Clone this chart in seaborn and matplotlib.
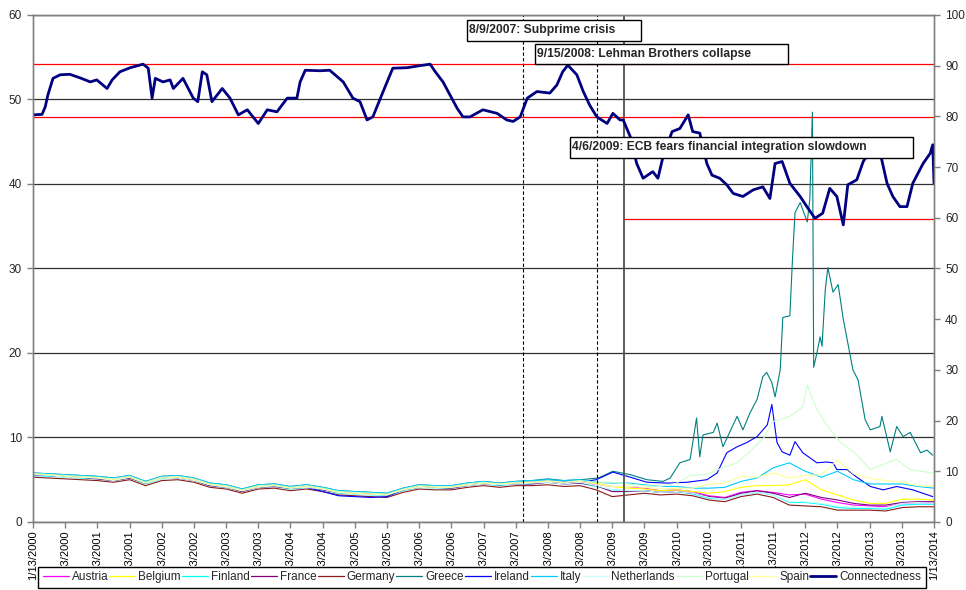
import numpy as np
import pandas as pd
import matplotlib.pyplot as plt
from matplotlib.patches import Rectangle
import seaborn as sns

sns.set_theme(style="white")
plt.rcParams['font.family'] = ['Liberation Sans', 'DejaVu Sans']

# time axis in decimal years (1/13/2000 .. 1/13/2014)
t_start = 2000.04
t_end = 2014.04
t_q = np.linspace(t_start, t_end, 57)   # quarterly readings

# --- yields (left axis) ---
austria = [5.6, 5.5, 5.4, 5.3, 5.2, 5.0, 5.3, 4.6, 5.2, 5.3, 5.0, 4.4, 4.2, 3.7, 4.2, 4.3, 4.0, 4.2, 3.9, 3.5,
           3.4, 3.3, 3.2, 3.9, 4.2, 4.1, 4.1, 4.4, 4.6, 4.4, 4.6, 4.6, 4.8, 4.6, 4.8, 4.5,
           4.2, 4.2, 4.0, 3.7, 3.8, 3.6, 3.1, 2.9, 3.5, 3.7, 3.5, 3.2, 3.3, 2.7, 2.3, 2.0, 1.9, 1.8, 2.2, 2.3, 2.2]
belgium = [5.7, 5.6, 5.5, 5.4, 5.3, 5.0, 5.4, 4.7, 5.3, 5.4, 5.1, 4.5, 4.3, 3.8, 4.3, 4.4, 4.1, 4.3, 4.0, 3.6,
           3.5, 3.4, 3.3, 3.9, 4.3, 4.2, 4.2, 4.5, 4.7, 4.5, 4.7, 4.7, 4.9, 4.7, 4.9, 4.6,
           4.2, 4.0, 3.9, 3.7, 3.8, 3.6, 3.4, 3.6, 4.1, 4.3, 4.3, 4.4, 5.0, 3.8, 3.2, 2.6, 2.2, 2.2, 2.7, 2.7, 2.6]
finland = [5.5, 5.4, 5.3, 5.2, 5.1, 4.9, 5.2, 4.5, 5.1, 5.2, 4.9, 4.3, 4.1, 3.6, 4.1, 4.2, 3.9, 4.1, 3.8, 3.4,
           3.3, 3.2, 3.1, 3.7, 4.1, 4.0, 4.0, 4.3, 4.5, 4.3, 4.5, 4.5, 4.7, 4.5, 4.6, 4.2,
           3.8, 3.7, 3.7, 3.5, 3.6, 3.3, 2.8, 2.7, 3.2, 3.5, 3.2, 2.3, 2.3, 2.1, 1.7, 1.6, 1.6, 1.5, 2.0, 2.1, 2.1]
france = [5.6, 5.5, 5.4, 5.3, 5.1, 4.9, 5.2, 4.6, 5.2, 5.2, 4.9, 4.3, 4.1, 3.6, 4.1, 4.2, 4.0, 4.2, 3.8, 3.5,
          3.4, 3.3, 3.2, 3.8, 4.1, 4.1, 4.0, 4.3, 4.5, 4.4, 4.5, 4.5, 4.7, 4.5, 4.6, 4.3,
          3.6, 3.6, 3.7, 3.5, 3.6, 3.4, 3.0, 2.8, 3.4, 3.7, 3.4, 2.9, 3.4, 2.9, 2.6, 2.2, 2.0, 2.0, 2.3, 2.4, 2.4]
germany = [5.3, 5.2, 5.1, 5.0, 4.9, 4.7, 5.0, 4.3, 4.9, 5.0, 4.7, 4.1, 3.9, 3.4, 3.9, 4.0, 3.7, 3.9, 3.6, 3.2,
           3.1, 3.0, 2.9, 3.5, 3.9, 3.8, 3.8, 4.1, 4.3, 4.1, 4.3, 4.3, 4.4, 4.2, 4.3, 3.8,
           3.0, 3.2, 3.4, 3.2, 3.3, 3.1, 2.6, 2.4, 3.0, 3.3, 2.9, 2.0, 1.9, 1.8, 1.4, 1.4, 1.4, 1.3, 1.7, 1.8, 1.8]
italy = [5.8, 5.7, 5.6, 5.5, 5.4, 5.2, 5.5, 4.8, 5.4, 5.5, 5.2, 4.6, 4.4, 3.9, 4.4, 4.5, 4.2, 4.4, 4.1, 3.7,
         3.6, 3.5, 3.4, 4.0, 4.4, 4.3, 4.3, 4.6, 4.8, 4.6, 4.8, 4.9, 5.0, 4.9, 5.0, 4.7,
         4.6, 4.6, 4.4, 4.2, 4.2, 4.0, 4.0, 4.1, 4.8, 5.2, 6.4, 7.0, 6.0, 5.3, 6.0, 5.0, 4.5, 4.5, 4.5, 4.2, 4.0]
netherlands = [5.6, 5.5, 5.3, 5.3, 5.2, 4.9, 5.3, 4.6, 5.1, 5.2, 4.9, 4.4, 4.1, 3.7, 4.1, 4.3, 4.0, 4.1, 3.9, 3.5,
               3.3, 3.2, 3.2, 3.8, 4.1, 4.0, 4.1, 4.3, 4.5, 4.4, 4.5, 4.6, 4.7, 4.5, 4.7, 4.3,
               3.8, 3.7, 3.7, 3.5, 3.6, 3.4, 2.9, 2.7, 3.2, 3.5, 3.2, 2.4, 2.4, 2.2, 1.9, 1.8, 1.7, 1.7, 2.2, 2.3, 2.2]
spain = [5.7, 5.6, 5.4, 5.3, 5.2, 5.0, 5.3, 4.6, 5.2, 5.3, 5.0, 4.4, 4.2, 3.7, 4.2, 4.3, 4.0, 4.2, 3.9, 3.5,
         3.4, 3.3, 3.2, 3.8, 4.2, 4.1, 4.1, 4.4, 4.6, 4.5, 4.6, 4.7, 4.8, 4.7, 4.8, 4.5,
         4.2, 4.2, 4.1, 3.9, 4.0, 4.0, 4.5, 4.6, 5.4, 5.3, 5.8, 5.2, 5.5, 5.6, 7.3, 5.7, 5.2, 4.9, 4.7, 4.3, 4.2]

# periphery: quarterly until mid-2008, then finer readings
greece_pre = [5.8, 5.7, 5.6, 5.5, 5.4, 5.2, 5.5, 4.8, 5.4, 5.5, 5.2, 4.6, 4.4, 3.9, 4.4, 4.5, 4.2, 4.4, 4.1, 3.7,
              3.6, 3.5, 3.4, 4.0, 4.4, 4.3, 4.3, 4.6, 4.8, 4.6, 4.8, 4.9, 5.1, 4.9]
greece_t = [2008.54, 2008.82, 2009.05, 2009.32, 2009.58, 2009.83, 2009.94, 2010.09, 2010.25, 2010.35,
            2010.40, 2010.45, 2010.61, 2010.67, 2010.76, 2010.98, 2011.07, 2011.18, 2011.29, 2011.38,
            2011.44, 2011.52, 2011.57, 2011.65, 2011.69, 2011.80, 2011.84, 2011.88, 2011.96, 2012.07,
            2012.11, 2012.15, 2012.17, 2012.22, 2012.27, 2012.30, 2012.35, 2012.39, 2012.47, 2012.55,
            2012.63, 2012.78, 2012.86, 2012.97, 2013.05, 2013.20, 2013.23, 2013.36, 2013.46, 2013.56,
            2013.67, 2013.83, 2013.93, 2014.02]
greece_v = [5.0, 5.2, 6.0, 5.6, 5.0, 4.8, 5.2, 7.0, 7.4, 12.3,
            7.7, 10.3, 10.6, 11.7, 8.9, 12.5, 10.9, 12.9, 14.5, 17.2,
            17.7, 16.5, 14.8, 18.0, 24.2, 24.4, 31.0, 36.6, 37.8, 35.5,
            38.2, 48.5, 18.3, 20.0, 21.9, 20.8, 27.5, 30.1, 27.2, 28.1,
            24.0, 18.0, 16.8, 12.1, 10.9, 11.3, 12.5, 8.3, 11.3, 10.1,
            10.6, 8.2, 8.5, 7.9]

ireland_pre = [5.6, 5.5, 5.4, 5.3, 5.2, 5.0, 5.3, 4.6, 5.2, 5.3, 5.0, 4.4, 4.2, 3.7, 4.2, 4.3, 4.0, 4.1, 3.6, 3.1,
               3.0, 2.9, 3.0, 3.8, 4.2, 4.1, 4.1, 4.4, 4.6, 4.4, 4.6, 4.7, 4.9, 4.8]
ireland_t = [2008.54, 2008.79, 2009.05, 2009.32, 2009.58, 2009.90, 2010.20, 2010.51, 2010.67, 2010.82,
             2010.98, 2011.13, 2011.29, 2011.45, 2011.52, 2011.60, 2011.68, 2011.80, 2011.88, 2012.00,
             2012.22, 2012.37, 2012.47, 2012.53, 2012.69, 2012.84, 2013.05, 2013.25, 2013.46, 2013.71,
             2014.02]
ireland_v = [4.7, 5.0, 5.9, 5.3, 4.7, 4.6, 4.7, 5.0, 5.8, 8.2,
             8.9, 9.4, 10.1, 11.5, 13.9, 9.4, 8.3, 7.9, 9.5, 8.2,
             7.0, 7.1, 7.0, 6.2, 6.2, 5.3, 4.2, 3.8, 4.2, 3.8,
             3.0]

portugal_pre = [5.7, 5.6, 5.5, 5.4, 5.3, 5.1, 5.4, 4.7, 5.3, 5.4, 5.1, 4.5, 4.3, 3.8, 4.3, 4.4, 4.1, 4.3, 4.0, 3.6,
                3.5, 3.4, 3.3, 3.9, 4.3, 4.2, 4.2, 4.5, 4.7, 4.5, 4.7, 4.7, 4.9, 4.7]
portugal_t = [2008.54, 2008.79, 2009.04, 2009.29, 2009.54, 2009.79, 2010.04, 2010.25, 2010.50, 2010.75,
              2010.98, 2011.20, 2011.40, 2011.52, 2011.80, 2012.00, 2012.07, 2012.22, 2012.39, 2012.59,
              2012.81, 2013.05, 2013.31, 2013.46, 2013.67, 2014.02]
portugal_v = [4.9, 4.7, 4.7, 4.5, 4.3, 4.2, 4.6, 5.5, 5.6, 6.4,
              7.0, 8.5, 10.0, 11.8, 12.5, 13.6, 16.2, 13.3, 11.3, 9.4,
              8.2, 6.2, 7.0, 7.4, 6.2, 5.8]

# --- connectedness index (right axis) ---
conn_t = [2000.04, 2000.18, 2000.23, 2000.27, 2000.35, 2000.46, 2000.61, 2000.77, 2000.93, 2001.03,
          2001.19, 2001.27, 2001.39, 2001.55, 2001.75, 2001.83, 2001.89, 2001.94, 2002.06, 2002.17,
          2002.22, 2002.37, 2002.53, 2002.60, 2002.67, 2002.74, 2002.82, 2002.98, 2003.10, 2003.23,
          2003.37, 2003.54, 2003.68, 2003.83, 2003.99, 2004.14, 2004.19, 2004.27, 2004.50, 2004.65,
          2004.86, 2005.01, 2005.12, 2005.23, 2005.32, 2005.48, 2005.63, 2005.85, 2006.05, 2006.21,
          2006.29, 2006.41, 2006.52, 2006.63, 2006.72, 2006.83, 2007.03, 2007.25, 2007.40, 2007.50,
          2007.61, 2007.72, 2007.87, 2008.07, 2008.18, 2008.27, 2008.35, 2008.49, 2008.59, 2008.69,
          2008.80, 2008.96, 2009.05, 2009.16, 2009.21, 2009.32, 2009.42, 2009.52, 2009.67, 2009.75,
          2009.83, 2009.97, 2010.09, 2010.22, 2010.29, 2010.40, 2010.51, 2010.59, 2010.71, 2010.82,
          2010.92, 2011.07, 2011.23, 2011.38, 2011.49, 2011.57, 2011.68, 2011.80, 2011.96, 2012.08,
          2012.19, 2012.31, 2012.42, 2012.53, 2012.63, 2012.70, 2012.84, 2012.94, 2013.04, 2013.20,
          2013.31, 2013.40, 2013.51, 2013.62, 2013.71, 2013.87, 2013.98, 2014.02, 2014.04]
conn_v = [80.3, 80.4, 81.9, 84.2, 87.5, 88.2, 88.3, 87.6, 86.8, 87.2,
          85.5, 87.2, 88.8, 89.6, 90.3, 89.5, 83.6, 87.5, 86.8, 87.2,
          85.5, 87.5, 83.6, 82.9, 88.8, 88.2, 82.9, 85.5, 83.6, 80.3,
          81.3, 78.6, 81.3, 80.9, 83.6, 83.6, 86.8, 89.1, 89.0, 89.1,
          86.8, 83.6, 82.9, 79.3, 79.9, 84.9, 89.5, 89.6, 90.0, 90.3,
          88.8, 86.8, 84.2, 81.6, 79.9, 79.9, 81.3, 80.6, 79.3, 79.0,
          79.9, 83.6, 84.9, 84.6, 86.2, 88.8, 90.1, 88.2, 84.9, 82.2,
          79.9, 78.6, 80.6, 79.3, 79.3, 76.0, 70.7, 67.8, 69.1, 67.8,
          72.1, 77.0, 77.6, 80.3, 77.0, 76.7, 70.7, 68.4, 67.8, 66.5,
          64.8, 64.2, 65.5, 66.1, 63.8, 70.7, 71.1, 66.8, 64.2, 61.9,
          59.9, 60.9, 65.8, 64.2, 58.6, 66.5, 67.5, 71.1, 73.0, 73.0,
          66.8, 64.2, 62.2, 62.2, 66.8, 70.7, 72.7, 74.4, 66.8]

# reference levels and events
red_levels = [90.4, 79.8]
red_low = 59.7
event_t = [2007.65, 2008.80, 2009.22]
event_text = ["8/9/2007: Subprime crisis", "9/15/2008: Lehman Brothers collapse",
              "4/6/2009: ECB fears financial integration slowdown"]

countries = ["Austria", "Belgium", "Finland", "France", "Germany", "Greece",
             "Ireland", "Italy", "Netherlands", "Portugal", "Spain"]
colors = ["#FF00FF", "#FFFF00", "#00FFFF", "#800080", "#8B1A1A", "#008080",
          "#0000FF", "#00CCFF", "#CCFFFF", "#CCFFCC", "#FFFF99"]
conn_color = "#000080"

series = {
    "Austria": (t_q, austria), "Belgium": (t_q, belgium), "Finland": (t_q, finland),
    "France": (t_q, france), "Germany": (t_q, germany),
    "Greece": (list(t_q[:34]) + greece_t, greece_pre + greece_v),
    "Ireland": (list(t_q[:34]) + ireland_t, ireland_pre + ireland_v),
    "Italy": (t_q, italy), "Netherlands": (t_q, netherlands),
    "Portugal": (list(t_q[:34]) + portugal_t, portugal_pre + portugal_v),
    "Spain": (t_q, spain),
}
frames = []
for name in countries:
    tt, vv = series[name]
    frames.append(pd.DataFrame({"t": tt, "value": vv, "country": name}))
df = pd.concat(frames, ignore_index=True)

fig = plt.figure(figsize=(9.66, 5.9), dpi=100)
ax = fig.add_axes([0.0342, 0.1153, 0.9327, 0.8593])
ax2 = ax.twinx()

sns.lineplot(data=df, x="t", y="value", hue="country", hue_order=countries,
             palette=dict(zip(countries, colors)), estimator=None, sort=False,
             lw=0.8, ax=ax, legend=False)

# gridlines + event lines
ax.set_ylim(0, 60)
ax.set_yticks(range(0, 61, 10))
ax.grid(axis="y", color="#303030", lw=0.9)
ax.grid(axis="x", visible=False)
ax.set_axisbelow(True)
ax.axvline(event_t[0], color="black", ls=(0, (3, 2)), lw=0.8)
ax.axvline(event_t[1], color="black", ls=(0, (3, 2)), lw=0.8)
ax.axvline(event_t[2], color="#505050", lw=1.3)

for lv in red_levels:
    ax2.axhline(lv, color="red", lw=0.9)
ax2.hlines(red_low, event_t[2], t_end, color="red", lw=0.9)
sns.lineplot(x=conn_t, y=conn_v, color=conn_color, lw=2.0, ax=ax2,
             estimator=None, sort=False)
ax2.set_ylim(0, 100)
ax2.set_yticks(range(0, 101, 10))
ax2.grid(False)

ax.set_xlim(t_start, t_end)
xt = np.linspace(t_start, t_end, 29)
xlabels = []
for yr in range(2000, 2014):
    xlabels += ["1/13/%d" % yr, "7/13/%d" % yr]
xlabels.append("1/13/2014")
ax.set_xticks(xt)
ax.set_xticklabels(xlabels, rotation=90)
ax.set_xlabel("")
ax.set_ylabel("")
ax2.set_ylabel("")

for a in (ax, ax2):
    for s in a.spines.values():
        s.set_color("#808080")
        s.set_linewidth(1)
ax.tick_params(axis="x", bottom=True, direction="out", length=4, width=1,
               color="#808080", labelsize=8, pad=2, labelcolor="black")
ax.tick_params(axis="y", left=True, direction="out", length=4, width=1,
               color="#808080", labelsize=8.5, pad=4)
ax2.tick_params(axis="y", right=True, direction="out", length=4, width=1,
                color="#808080", labelsize=8.5, pad=4)

# event boxes
boxes = [(0.4817, 0.9487, 0.6748, 0.9901),
         (0.5572, 0.9034, 0.8380, 0.9428),
         (0.5960, 0.7179, 0.9767, 0.7594)]
for (x0, y0, x1, y1), s in zip(boxes, event_text):
    ax2.add_patch(Rectangle((x0, y0), x1 - x0, y1 - y0, transform=ax2.transAxes,
                            facecolor="white", edgecolor="black", lw=1, zorder=10))
    ax2.text(x0 + 0.002, (y0 + y1) / 2, s, transform=ax2.transAxes, ha="left",
             va="center", fontsize=8.7, fontweight="bold", zorder=11)

# legend across the bottom (covers the long date labels, as in the original)
handles = [plt.Line2D([], [], color=c, lw=0.9) for c in colors]
handles.append(plt.Line2D([], [], color=conn_color, lw=2.0))
labels = countries + ["Connectedness"]
leg = fig.legend(handles, labels, loc="lower left", bbox_to_anchor=(38 / 966, 2 / 590),
                 ncol=12, fontsize=8.5, frameon=True, fancybox=False, framealpha=1,
                 edgecolor="black", handlelength=2.2, handletextpad=0.25,
                 columnspacing=0.1, borderpad=0.4, borderaxespad=0)
leg.get_frame().set_linewidth(1)

fig.savefig("out.png", dpi=100)
